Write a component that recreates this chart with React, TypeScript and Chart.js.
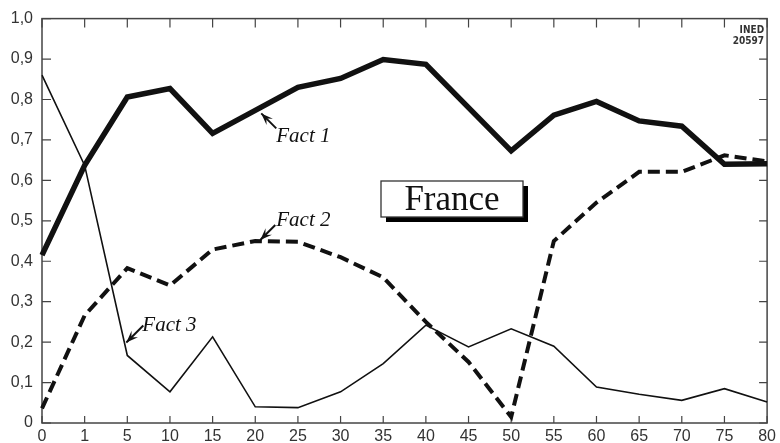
import React, { useEffect, useRef } from 'react';
import { Chart, registerables } from 'chart.js';

Chart.register(...registerables);

const ages = ['0', '1', '5', '10', '15', '20', '25', '30', '35', '40', '45', '50', '55', '60', '65', '70', '75', '80'];
const fact1 = [0.415, 0.637, 0.806, 0.827, 0.716, 0.773, 0.83, 0.852, 0.899, 0.887, 0.78, 0.673, 0.761, 0.795, 0.747, 0.734, 0.64, 0.641];
const fact2 = [0.036, 0.266, 0.383, 0.34, 0.429, 0.45, 0.448, 0.41, 0.36, 0.25, 0.151, 0.015, 0.45, 0.545, 0.621, 0.621, 0.662, 0.647];
const fact3 = [0.86, 0.637, 0.167, 0.077, 0.213, 0.04, 0.038, 0.077, 0.147, 0.242, 0.188, 0.233, 0.19, 0.089, 0.071, 0.056, 0.085, 0.052];
const yTicks = [0, 0.1, 0.2, 0.3, 0.4, 0.5, 0.6, 0.7, 0.8, 0.9, 1.0];
const seriesNames = ['Fact 1', 'Fact 2', 'Fact 3'];
const boxLabel = 'France';
const sourceLines = ['INED', '20597'];

const INK = '#111';
const AXIS = '#444';

function drawArrow(ctx: CanvasRenderingContext2D, tx: number, ty: number, hx: number, hy: number) {
  ctx.beginPath();
  ctx.moveTo(tx, ty);
  ctx.lineTo(hx, hy);
  ctx.lineWidth = 2;
  ctx.strokeStyle = INK;
  ctx.stroke();
  const ang = Math.atan2(hy - ty, hx - tx);
  const len = 12;
  const w = 4.5;
  const bx = hx - len * Math.cos(ang);
  const by = hy - len * Math.sin(ang);
  ctx.beginPath();
  ctx.moveTo(hx, hy);
  ctx.lineTo(bx + w * Math.sin(ang), by - w * Math.cos(ang));
  ctx.lineTo(hx - 0.6 * len * Math.cos(ang), hy - 0.6 * len * Math.sin(ang));
  ctx.lineTo(bx - w * Math.sin(ang), by + w * Math.cos(ang));
  ctx.closePath();
  ctx.fillStyle = INK;
  ctx.fill();
}

const decor = {
  id: 'decor',
  beforeDatasetsDraw(chart: any) {
    const { ctx, chartArea: a, scales } = chart;
    const x = scales.x;
    const y = scales.y;
    ctx.save();
    ctx.strokeStyle = AXIS;
    ctx.lineWidth = 1.5;
    ctx.strokeRect(a.left, a.top, a.right - a.left, a.bottom - a.top);
    ctx.lineWidth = 1.2;
    ctx.beginPath();
    ages.forEach((_, i) => {
      const px = x.getPixelForValue(i);
      ctx.moveTo(px, a.bottom);
      ctx.lineTo(px, a.bottom - 7);
      ctx.moveTo(px, a.top);
      ctx.lineTo(px, a.top + 9);
    });
    yTicks.forEach((v) => {
      const py = y.getPixelForValue(v);
      ctx.moveTo(a.left, py);
      ctx.lineTo(a.left + 9, py);
      ctx.moveTo(a.right, py);
      ctx.lineTo(a.right - 8, py);
    });
    ctx.stroke();
    ctx.restore();
  },
  afterDatasetsDraw(chart: any) {
    const { ctx, chartArea: a, scales } = chart;
    const x = scales.x;
    const y = scales.y;
    ctx.save();

    ctx.font = 'italic 21px "Liberation Serif", "DejaVu Serif", serif';
    ctx.fillStyle = INK;
    ctx.textAlign = 'left';
    ctx.textBaseline = 'alphabetic';

    const p1x = x.getPixelForValue(5) + 6;
    const p1y = y.getPixelForValue(fact1[5]) + 3;
    drawArrow(ctx, p1x + 15, p1y + 15, p1x, p1y);
    ctx.fillText(seriesNames[0], p1x + 15, p1y + 29);

    const p2x = x.getPixelForValue(5) + 5;
    const p2y = y.getPixelForValue(fact2[5]) - 1;
    drawArrow(ctx, p2x + 15, p2y - 15, p2x, p2y);
    ctx.fillText(seriesNames[1], p2x + 16, p2y - 14);

    const p3x = x.getPixelForValue(2) - 1;
    const p3y = y.getPixelForValue(fact3[2]) - 13;
    drawArrow(ctx, p3x + 17, p3y - 17, p3x, p3y);
    ctx.fillText(seriesNames[2], p3x + 16, p3y - 11);

    const bx = 381, by = 181, bw = 142, bh = 36;
    ctx.fillStyle = '#000';
    ctx.fillRect(bx + 5, by + 5, bw, bh);
    ctx.fillStyle = '#fff';
    ctx.fillRect(bx, by, bw, bh);
    ctx.strokeStyle = '#333';
    ctx.lineWidth = 1.3;
    ctx.strokeRect(bx, by, bw, bh);
    ctx.fillStyle = INK;
    ctx.font = '35px "Liberation Serif", "DejaVu Serif", serif';
    ctx.textAlign = 'center';
    ctx.fillText(boxLabel, bx + bw / 2, by + 29);

    ctx.font = 'bold 10px "DejaVu Sans Condensed", "Liberation Sans", sans-serif';
    ctx.textAlign = 'right';
    ctx.fillStyle = '#333';
    ctx.fillText(sourceLines[0], a.right - 3, a.top + 14);
    ctx.fillText(sourceLines[1], a.right - 3, a.top + 25);

    ctx.restore();
  },
};

export default function App() {
  const ref = useRef<HTMLCanvasElement | null>(null);

  useEffect(() => {
    if (!ref.current) return;
    const tickFont = { family: '"Liberation Sans", Arial, sans-serif', size: 16 };
    const chart = new Chart(ref.current, {
      type: 'line',
      data: {
        labels: ages,
        datasets: [
          {
            label: seriesNames[0],
            data: fact1,
            borderColor: INK,
            borderWidth: 5.5,
            pointRadius: 0,
            tension: 0,
            fill: false,
            borderJoinStyle: 'miter',
          },
          {
            label: seriesNames[1],
            data: fact2,
            borderColor: INK,
            borderWidth: 4,
            borderDash: [12, 6],
            pointRadius: 0,
            tension: 0,
            fill: false,
          },
          {
            label: seriesNames[2],
            data: fact3,
            borderColor: INK,
            borderWidth: 1.6,
            pointRadius: 0,
            tension: 0,
            fill: false,
          },
        ],
      },
      options: {
        responsive: false,
        animation: false,
        events: [],
        layout: { padding: { top: 18, right: 12, left: 0, bottom: 0 } },
        plugins: { legend: { display: false }, tooltip: { enabled: false }, title: { display: false } },
        scales: {
          x: {
            type: 'category',
            offset: false,
            grid: { display: false, drawTicks: false },
            border: { display: false },
            ticks: { color: '#333', font: tickFont, padding: 4, maxRotation: 0, autoSkip: false },
            afterFit: (s: any) => { s.height = 20; },
          },
          y: {
            min: 0,
            max: 1,
            grid: { display: false, drawTicks: false },
            border: { display: false },
            ticks: {
              color: '#333',
              font: tickFont,
              padding: 9,
              stepSize: 0.1,
              callback: (v: any) => (Number(v) === 0 ? '0' : Number(v).toFixed(1).replace('.', ',')),
            },
            afterFit: (s: any) => { s.width = 42; },
          },
        },
      },
      plugins: [decor],
    });
    return () => chart.destroy();
  }, []);

  return (
    <div style={{ position: 'absolute', left: 0, top: 0, width: 780, height: 443, background: '#fff' }}>
      <canvas ref={ref} width={780} height={443} style={{ width: 780, height: 443, display: 'block' }} />
    </div>
  );
}
